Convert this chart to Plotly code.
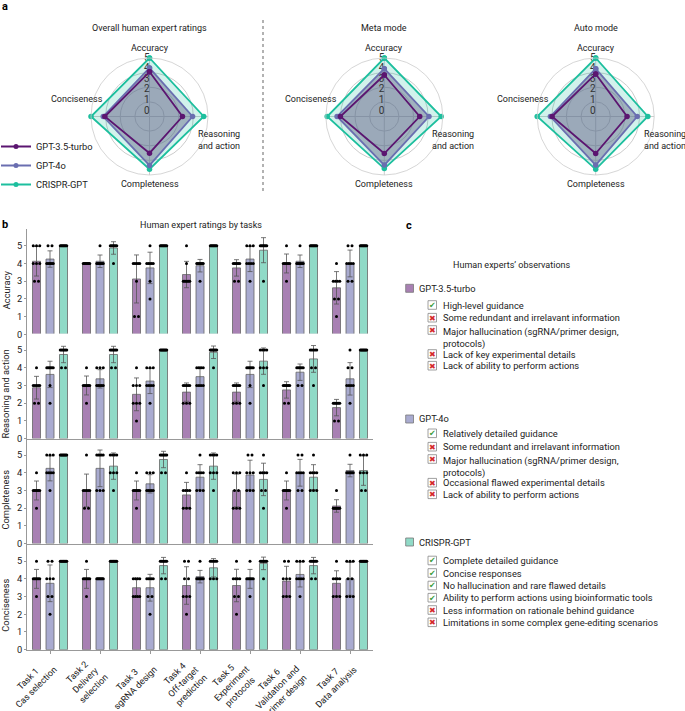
import numpy as np
import plotly.graph_objects as go

W, H = 685, 711

models = ["GPT-3.5-turbo", "GPT-4o", "CRISPR-GPT"]
criteria = ["Accuracy", "Reasoning and action", "Completeness", "Conciseness"]
radar_titles = ["Overall human expert ratings", "Meta mode", "Auto mode"]
radial_ticks = [0, 1, 2, 3, 4, 5]

# ---- radar values (Accuracy, Reasoning and action, Completeness, Conciseness)
overall_gpt35 = [3.7, 2.6, 2.95, 3.7]
overall_gpt4o = [4.07, 3.55, 4.1, 3.85]
overall_crispr = [5.0, 4.6, 4.45, 5.0]
meta_gpt35 = [3.4, 2.83, 2.98, 3.63]
meta_gpt4o = [4.0, 3.7, 4.07, 3.94]
meta_crispr = [5.0, 4.85, 4.4, 4.87]
auto_gpt35 = [3.5, 2.45, 2.98, 3.6]
auto_gpt4o = [4.0, 3.4, 4.07, 3.76]
auto_crispr = [5.0, 4.4, 4.47, 5.0]

# ---- panel b: individual expert ratings (8 experts) per task 1..7
task_labels = ["Task 1<br>Cas selection", "Task 2<br>Delivery<br>selection", "Task 3<br>sgRNA design",
               "Task 4<br>Off-target<br>prediction", "Task 5<br>Experiment<br>protocols",
               "Task 6<br>Validation and<br>primer design", "Task 7<br>Data analysis"]

accuracy_gpt35 = ["55544433", "44444444", "44444311", "54333333", "44444433", "54444443", "43333221"]
accuracy_gpt4o = ["55444444", "54444444", "54444432", "44444443", "55544443", "54444444", "55444433"]
accuracy_crispr = ["55555555", "55555554", "55555555", "55555555", "55555553", "55555555", "55555555"]

reasoning_gpt35 = ["43333322", "43333332", "43332221", "33333222", "33333222", "33333322", "22222211"]
reasoning_gpt4o = ["44444432", "44433333", "44433332", "44443333", "44444432", "44444433", "54433332"]
reasoning_crispr = ["55555544", "55555544", "55555555", "55555554", "55554443", "55555443", "55555555"]

completeness_gpt35 = ["43333332", "53333322", "43333332", "43333222", "44433222", "43333332", "32222222"]
completeness_gpt4o = ["55544443", "55555333", "44433333", "54444333", "55444333", "55444433", "54444444"]
completeness_crispr = ["55555555", "55554443", "55555544", "55554443", "54444332", "54444333", "55544433"]

conciseness_gpt35 = ["54444443", "54444443", "44443333", "55443332", "54444332", "55444333", "54444333"]
conciseness_gpt4o = ["55444332", "44444444", "44444332", "54444444", "54444443", "55544443", "55544333"]
conciseness_crispr = ["55555555", "55555555", "55555544", "55555444", "55555554", "55555544", "55555555"]

# ---- panel c
obs_gpt35 = [("High-level guidance", True), ("Some redundant and irrelavant information", False),
             ("Major hallucination (sgRNA/primer design,<br>protocols)", False),
             ("Lack of key experimental details", False), ("Lack of ability to perform actions", False)]
obs_gpt4o = [("Relatively detailed guidance", True), ("Some redundant and irrelavant information", False),
             ("Major hallucination (sgRNA/primer design,<br>protocols)", False),
             ("Occasional flawed experimental details", False), ("Lack of ability to perform actions", False)]
obs_crispr = [("Complete detailed guidance", True), ("Concise responses", True),
              ("No hallucination and rare flawed details", True),
              ("Ability to perform actions using bioinformatic tools", True),
              ("Less information on rationale behind guidance", False),
              ("Limitations in some complex gene-editing scenarios", False)]

# ---- styles
FONT = "Roboto"
TXT = "#222222"
FS = 9
line_col = ["#5B1570", "#6A6EB0", "#1DBF9E"]
fill_col = ["rgba(91,21,112,0.06)", "rgba(100,101,135,0.45)", "rgba(29,191,158,0.2)"]
bar_col = ["#A880B3", "#A9ABD0", "#90DAC7"]


def X(p):
    return p / W


def Y(p):
    return 1 - p / H


fig = go.Figure()
annotations = []
shapes = []


def note(x, y, text, size=FS, **kw):
    d = dict(x=X(x), y=Y(y), xref="paper", yref="paper", text=text, showarrow=False,
             xanchor="center", yanchor="middle", font=dict(size=size))
    d.update(kw)
    annotations.append(d)


# ================= radar charts =================
radar_sets = [
    [overall_gpt35, overall_gpt4o, overall_crispr],
    [meta_gpt35, meta_gpt4o, meta_crispr],
    [auto_gpt35, auto_gpt4o, auto_crispr],
]
centers = [(149.5, 116.5), (384.3, 116.5), (595.7, 116.5)]
R = 58.5
for k, (vals3, (cx, cy)) in enumerate(zip(radar_sets, centers)):
    pname = "polar" if k == 0 else f"polar{k + 1}"
    for j in [2, 1, 0]:
        v = vals3[j]
        fig.add_trace(go.Scatterpolar(r=v + v[:1], theta=criteria + criteria[:1], mode="none",
                                      fill="toself", fillcolor=fill_col[j], subplot=pname,
                                      showlegend=False, hoverinfo="skip"))
    fig.add_trace(go.Scatterpolar(r=radial_ticks, theta=[criteria[0]] * len(radial_ticks), mode="text",
                                  text=[str(t) for t in radial_ticks], textposition="middle left",
                                  textfont=dict(size=10, color="#333", family=FONT),
                                  subplot=pname, showlegend=False, hoverinfo="skip"))
    for j in [2, 1, 0]:
        v = vals3[j]
        fig.add_trace(go.Scatterpolar(r=v + v[:1], theta=criteria + criteria[:1], mode="lines+markers",
                                      line=dict(color=line_col[j], width=1.8),
                                      marker=dict(color=line_col[j], size=5.5),
                                      subplot=pname, name=models[j], showlegend=False))
    fig.update_layout(**{pname: dict(
        domain=dict(x=[X(cx - R), X(cx + R)], y=[Y(cy + R), Y(cy - R)]),
        bgcolor="rgba(0,0,0,0)",
        radialaxis=dict(range=[-0.5, 5], tickvals=[0.875, 2.25, 3.625], showticklabels=False,
                        ticks="", showline=False, gridcolor="#cccccc", gridwidth=0.8, angle=90),
        angularaxis=dict(type="category", categoryarray=criteria, rotation=90, direction="clockwise",
                         showticklabels=False, ticks="", showline=True, linecolor="#cccccc",
                         linewidth=0.8, gridcolor="#cccccc", gridwidth=0.8),
    )})
    note(cx, 28, radar_titles[k])
    note(cx, cy - 68, criteria[0])
    note(cx + 46, cy + 23.5, "Reasoning<br>and action", xanchor="left", align="left")
    note(cx, cy + 67, criteria[2])
    note(cx - 45, cy - 18, criteria[3], xanchor="right")

# separator
shapes.append(dict(type="line", xref="paper", yref="paper", x0=X(263), x1=X(263), y0=Y(20), y1=Y(192),
                   line=dict(color="#999999", width=1.5, dash="dot")))

# ================= bar charts =================
rows = [
    [accuracy_gpt35, accuracy_gpt4o, accuracy_crispr],
    [reasoning_gpt35, reasoning_gpt4o, reasoning_crispr],
    [completeness_gpt35, completeness_gpt4o, completeness_crispr],
    [conciseness_gpt35, conciseness_gpt4o, conciseness_crispr],
]
zeros = [334.3, 438.6, 543.6, 649.7]
row_h = 105
model_offset = [-0.27, 0.0, 0.27]
task_x = np.arange(len(task_labels))


def spread(n):
    if n == 1:
        return np.array([0.0])
    span = min(0.08 * (n - 1), 0.13)
    return np.linspace(-span / 2, span / 2, n)


for i, row in enumerate(rows):
    xa = "x" if i == 0 else f"x{i + 1}"
    ya = "y" if i == 0 else f"y{i + 1}"
    for j, ratings in enumerate(row):
        vals = [np.array([int(c) for c in s]) for s in ratings]
        means = [v.mean() for v in vals]
        sds = [v.std(ddof=1) for v in vals]
        xs = task_x + model_offset[j]
        fig.add_trace(go.Bar(x=xs, y=means, width=0.16, xaxis=xa, yaxis=ya,
                             marker=dict(color=bar_col[j], line=dict(color="#666666", width=0.8)),
                             error_y=dict(type="data", array=sds, color="#555555", thickness=0.8, width=2.5),
                             showlegend=False, name=models[j]))
        dx, dy = [], []
        for t, v in enumerate(vals):
            u, cnt = np.unique(v, return_counts=True)
            for val, n in zip(u, cnt):
                for o in spread(n):
                    dx.append(xs[t] + o)
                    dy.append(val)
        fig.add_trace(go.Scatter(x=dx, y=dy, mode="markers", xaxis=xa, yaxis=ya,
                                 marker=dict(color="black", size=3), showlegend=False,
                                 hoverinfo="skip", cliponaxis=False))
    fig.update_layout(**{
        ("xaxis" if i == 0 else f"xaxis{i + 1}"): dict(
            domain=[X(27), X(373)], range=[-0.46, 6.46], anchor=ya, automargin=False,
            showline=True, linecolor="#999999", linewidth=1, showgrid=False, zeroline=False,
            tickvals=list(task_x), showticklabels=False,
            ticks="outside" if i == 3 else "", ticklen=3, tickcolor="#999999"),
        ("yaxis" if i == 0 else f"yaxis{i + 1}"): dict(
            domain=[Y(zeros[i]), Y(zeros[i] - row_h)], range=[0, 5.93], anchor=xa, automargin=False,
            tickvals=[0, 1, 2, 3, 4, 5], showline=True, linecolor="#999999", linewidth=1,
            ticks="outside", ticklen=2, tickcolor="#999999", showgrid=False, zeroline=False,
            tickfont=dict(size=9.3)),
    })
    note(6, zeros[i] - 44, criteria[i], size=9.3, textangle=-90)

# rotated, centre-aligned task labels under the bottom axis (positioned on the x4 data scale)
for t, lab in zip(task_x, task_labels):
    annotations.append(dict(x=t, xref="x4", y=Y(653), yref="paper", text=lab, textangle=-45,
                            showarrow=False, xanchor="right", yanchor="top", align="center",
                            xshift=12, font=dict(size=9)))

note(201, 225, "Human expert ratings by tasks")

# legend entries for radar
for j in range(3):
    fig.add_trace(go.Scatter(x=[None], y=[None], mode="lines+markers", name=models[j],
                             line=dict(color=line_col[j], width=2), marker=dict(color=line_col[j], size=5)))

# ================= panel c =================
note(512, 265, "Human experts’ observations")
groups = [(obs_gpt35, 288.3, [305, 317.7, 330, 354, 365.7]),
          (obs_gpt4o, 419.0, [433.3, 446.7, 459, 482.7, 494.3]),
          (obs_crispr, 542.0, [560.5, 573, 585.5, 597.7, 610, 622.3])]
for j, (obs, hy, ys) in enumerate(groups):
    shapes.append(dict(type="rect", xref="paper", yref="paper", x0=X(405.7), x1=X(413.5),
                       y0=Y(hy + 4), y1=Y(hy - 4), fillcolor=bar_col[j], line=dict(color="#777777", width=0.8)))
    note(417, hy, models[j], size=9.3, xanchor="left")
    for (txt, ok), yy in zip(obs, ys):
        shapes.append(dict(type="rect", xref="paper", yref="paper", x0=X(428), x1=X(436.5),
                           y0=Y(yy + 4.3), y1=Y(yy - 4.3), fillcolor="white",
                           line=dict(color="#888888", width=0.8)))
        note(432.3, yy + 0.3, "✔" if ok else "✖",
             font=dict(size=8, family="DejaVu Sans", color="#3C9B3C" if ok else "#D42A2A"))
        if "<br>" in txt:
            note(441, yy - 6.3, txt, size=9.3, xanchor="left", yanchor="top", align="left")
        else:
            note(441, yy, txt, size=9.3, xanchor="left")

# panel letters
for lab, lx, ly in [("a", 5, 7), ("b", 5, 224), ("c", 409, 225)]:
    note(lx, ly, f"<b>{lab}</b>", font=dict(size=11, color="black"))

fig.update_layout(
    width=W, height=H, autosize=False, margin=dict(l=0, r=0, t=0, b=0, autoexpand=False),
    paper_bgcolor="white", plot_bgcolor="white",
    font=dict(family=FONT, size=FS, color=TXT),
    barmode="overlay",
    showlegend=True,
    legend=dict(x=X(-4), y=Y(132), xanchor="left", yanchor="top", bgcolor="rgba(0,0,0,0)",
                font=dict(size=9.3), itemwidth=30, tracegroupgap=0),
    annotations=annotations, shapes=shapes,
)

fig.write_html("out.html", config={"displayModeBar": False},
               post_script="document.body.style.margin='0';document.body.style.overflow='hidden';")
